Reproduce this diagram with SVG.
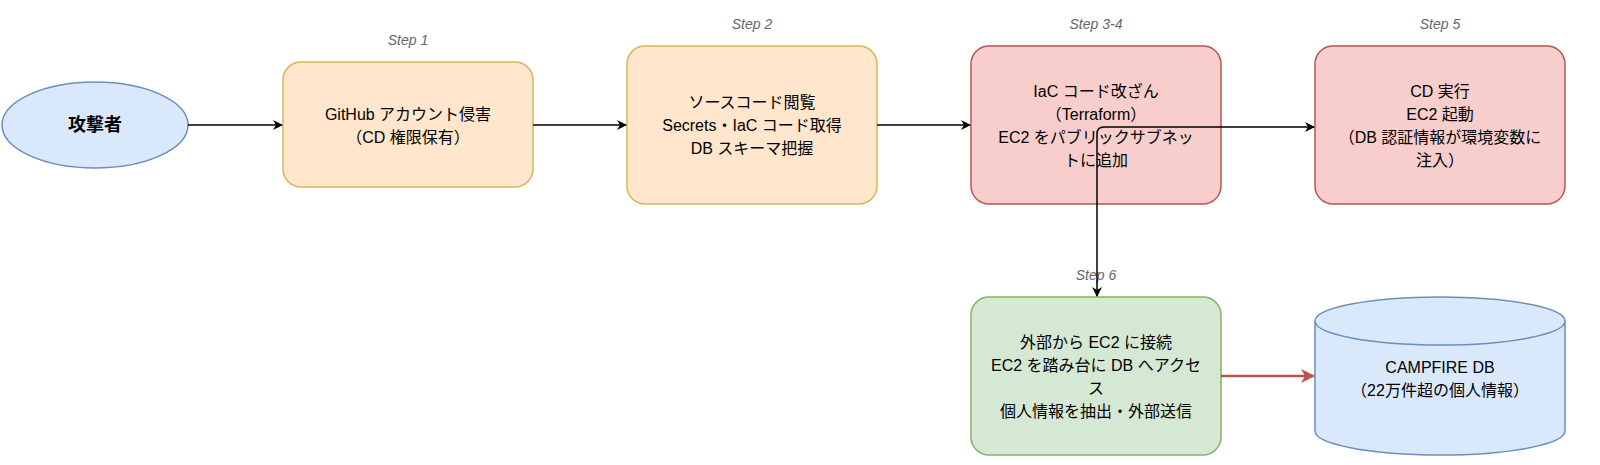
<svg xmlns="http://www.w3.org/2000/svg" width="1600" height="465" viewBox="0 0 1600 465">
<style>
text{font-family:"Liberation Sans","Noto Sans CJK JP",sans-serif;font-size:16px;text-anchor:middle;fill:#000}
.step{font-style:italic;font-size:14px;fill:#666}
.c{fill:none;stroke:#000;stroke-width:1.5}
</style>
<defs>
<marker id="a" markerWidth="10" markerHeight="10" refX="9" refY="5" orient="auto" markerUnits="userSpaceOnUse"><path d="M0,0 L10,5 L0,10 L3,5 Z" fill="#000"/></marker>
<marker id="r" markerWidth="14" markerHeight="14" refX="13" refY="7" orient="auto" markerUnits="userSpaceOnUse"><path d="M0,0 L14,7 L0,14 L4,7 Z" fill="#b85450"/></marker>
</defs>
<rect width="1600" height="465" fill="#fff"/>
<g id="attacker"><ellipse cx="95" cy="125" rx="93" ry="43" fill="#dae8fc" stroke="#6c8ebf" stroke-width="1.5"/><text x="95" y="131" font-weight="bold" style="font-size:18px">攻撃者</text></g>
<g id="step1"><text class="step" x="408" y="45">Step 1</text><rect x="283" y="62" width="250" height="125" rx="18" fill="#ffe6cc" stroke="#d6b656" stroke-width="1.5"/><text x="408" y="120">GitHub アカウント侵害</text><text x="408" y="143">（CD 権限保有）</text></g>
<g id="step2"><text class="step" x="752" y="29">Step 2</text><rect x="627" y="46" width="250" height="158" rx="18" fill="#ffe6cc" stroke="#d6b656" stroke-width="1.5"/><text x="752" y="108">ソースコード閲覧</text><text x="752" y="131">Secrets・IaC コード取得</text><text x="752" y="154">DB スキーマ把握</text></g>
<g id="step34"><text class="step" x="1096" y="29">Step 3-4</text><rect x="971" y="46" width="250" height="158" rx="18" fill="#f8cecc" stroke="#b85450" stroke-width="1.5"/><text x="1096" y="97">IaC コード改ざん</text><text x="1096" y="120">（Terraform）</text><text x="1096" y="143">EC2 をパブリックサブネッ</text><text x="1096" y="166">トに追加</text></g>
<g id="step5"><text class="step" x="1440" y="29">Step 5</text><rect x="1315" y="46" width="250" height="158" rx="18" fill="#f8cecc" stroke="#b85450" stroke-width="1.5"/><text x="1440" y="97">CD 実行</text><text x="1440" y="120">EC2 起動</text><text x="1440" y="143">（DB 認証情報が環境変数に</text><text x="1440" y="166">注入）</text></g>
<g id="step6"><text class="step" x="1096" y="280">Step 6</text><rect x="971" y="297" width="250" height="158" rx="18" fill="#d5e8d4" stroke="#82b366" stroke-width="1.5"/><text x="1096" y="348">外部から EC2 に接続</text><text x="1096" y="371">EC2 を踏み台に DB へアクセ</text><text x="1096" y="394">ス</text><text x="1096" y="417">個人情報を抽出・外部送信</text></g>
<g id="db"><path d="M1315,321 V431 A125,24 0 0 0 1565,431 V321" fill="#dae8fc" stroke="#6c8ebf" stroke-width="1.5"/><ellipse cx="1440" cy="321" rx="125" ry="24" fill="#dae8fc" stroke="#6c8ebf" stroke-width="1.5"/><text x="1440" y="373">CAMPFIRE DB</text><text x="1440" y="396">（22万件超の個人情報）</text></g>
<g id="connectors">
<path class="c" d="M188,125 H282" marker-end="url(#a)"/>
<path class="c" d="M533,125 H626" marker-end="url(#a)"/>
<path class="c" d="M877,125 H970" marker-end="url(#a)"/>
<path class="c" d="M1097,134 Q1097,127 1104,127 H1314" marker-end="url(#a)"/>
<path class="c" d="M1097,134 V296" marker-end="url(#a)"/>
<path d="M1221,376 H1314" fill="none" stroke="#b85450" stroke-width="2.5" marker-end="url(#r)"/>
</g>
</svg>
